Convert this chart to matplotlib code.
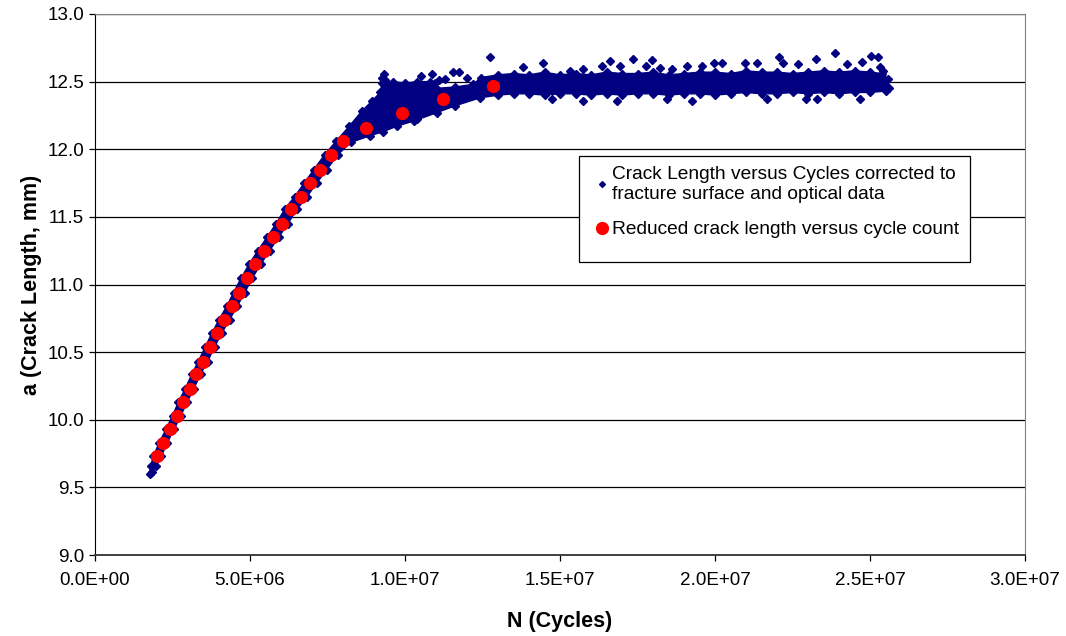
import numpy as np
import matplotlib
matplotlib.use("Agg")
import matplotlib.pyplot as plt
from matplotlib.lines import Line2D
from matplotlib.patches import Rectangle

plt.rcParams["font.family"] = ["Liberation Sans", "DejaVu Sans"]

NAVY = "#000080"
RED = "#FF0000"

# Reduced crack length versus cycle count (N in millions of cycles, a in mm)
reduced_n_mcycles = [2.01, 2.20, 2.42, 2.64, 2.83, 3.05, 3.27, 3.48, 3.71, 3.93,
                     4.17, 4.42, 4.65, 4.90, 5.16, 5.44, 5.74, 6.03, 6.33, 6.64,
                     6.95, 7.27, 7.62, 8.01, 8.75, 9.89, 11.22, 12.85]
reduced_a_mm = [9.73, 9.83, 9.93, 10.03, 10.13, 10.23, 10.34, 10.43, 10.54, 10.64,
                10.74, 10.84, 10.94, 11.05, 11.15, 11.25, 11.35, 11.45, 11.56, 11.65,
                11.75, 11.85, 11.96, 12.06, 12.16, 12.27, 12.37, 12.47]

# Corrected crack length data: outline of the dense point cloud
# upper / left edge of the cloud
cloud_upper_n = [1.76, 1.80, 1.88, 2.07, 2.29, 2.50, 2.69, 2.91, 3.13, 3.33,
                 3.56, 3.77, 4.00, 4.25, 4.47, 4.72, 4.97, 5.25, 5.55, 5.84,
                 6.13, 6.44, 6.75, 7.06, 7.41, 7.78, 8.20, 8.60, 8.95, 9.20,
                 9.26, 9.60, 10.00, 10.40, 10.80, 10.96, 11.00, 11.60, 12.20, 12.45,
                 13.00, 13.50, 14.00, 14.50, 15.00, 15.50, 16.00, 16.50, 17.00, 17.50,
                 18.00, 18.50, 19.00, 19.50, 20.00, 20.50, 21.00, 21.50, 22.00, 22.50,
                 23.00, 23.50, 24.00, 24.50, 25.00, 25.40, 25.58]
cloud_upper_a = [9.60, 9.66, 9.73, 9.83, 9.93, 10.03, 10.13, 10.23, 10.34, 10.43,
                 10.54, 10.64, 10.74, 10.84, 10.94, 11.05, 11.15, 11.25, 11.35, 11.45,
                 11.56, 11.65, 11.75, 11.85, 11.96, 12.06, 12.17, 12.28, 12.36, 12.42,
                 12.49, 12.50, 12.49, 12.50, 12.50, 12.49, 12.45, 12.46, 12.48, 12.53,
                 12.55, 12.56, 12.55, 12.57, 12.55, 12.56, 12.55, 12.57, 12.56, 12.56,
                 12.57, 12.55, 12.56, 12.57, 12.57, 12.56, 12.58, 12.57, 12.57, 12.56,
                 12.57, 12.58, 12.57, 12.58, 12.57, 12.56, 12.52]
# lower / right edge of the cloud
cloud_lower_n = [1.84, 1.98, 2.14, 2.33, 2.55, 2.77, 2.97, 3.19, 3.41, 3.63,
                 3.86, 4.09, 4.34, 4.59, 4.83, 5.08, 5.35, 5.63, 5.93, 6.22,
                 6.53, 6.84, 7.15, 7.48, 7.83, 8.25, 8.87, 9.30, 9.73, 10.30,
                 11.02, 11.60, 12.42, 13.00, 13.50, 14.00, 14.50, 15.00, 15.50, 16.00,
                 16.50, 17.00, 17.50, 18.00, 18.50, 19.00, 19.50, 20.00, 20.50, 21.00,
                 21.50, 22.00, 22.50, 23.00, 23.50, 24.00, 24.50, 25.00, 25.50, 25.62]
cloud_lower_a = [9.61, 9.66, 9.73, 9.83, 9.93, 10.03, 10.13, 10.23, 10.34, 10.43,
                 10.54, 10.64, 10.74, 10.84, 10.94, 11.05, 11.15, 11.25, 11.35, 11.45,
                 11.56, 11.65, 11.75, 11.85, 11.96, 12.05, 12.10, 12.13, 12.17, 12.21,
                 12.27, 12.32, 12.38, 12.40, 12.41, 12.41, 12.40, 12.41, 12.41, 12.40,
                 12.41, 12.40, 12.41, 12.41, 12.40, 12.41, 12.41, 12.40, 12.41, 12.42,
                 12.41, 12.41, 12.42, 12.41, 12.42, 12.41, 12.42, 12.42, 12.43, 12.45]
# isolated readings outside the dense cloud
scatter_n = [9.27, 9.33, 9.35, 10.50, 10.86, 11.56, 11.74, 12.74, 13.82, 14.46,
             15.32, 15.75, 16.34, 16.61, 16.94, 17.36, 17.77, 17.96, 18.23, 18.60,
             19.09, 19.57, 19.98, 20.22, 20.97, 21.35, 22.06, 22.20, 22.67, 23.25,
             23.87, 24.25, 24.73, 25.03, 25.25, 25.32, 25.41, 14.73, 15.75, 16.83,
             18.44, 19.25, 21.67, 22.94, 23.28, 24.68, 11.10, 11.30, 12.00, 10.40]
scatter_a = [12.53, 12.56, 12.51, 12.54, 12.56, 12.57, 12.57, 12.68, 12.61, 12.64,
             12.58, 12.59, 12.615, 12.655, 12.615, 12.67, 12.615, 12.66, 12.60, 12.59,
             12.615, 12.615, 12.635, 12.635, 12.64, 12.635, 12.68, 12.64, 12.63, 12.67,
             12.71, 12.63, 12.645, 12.69, 12.68, 12.61, 12.575, 12.37, 12.36, 12.36,
             12.375, 12.36, 12.375, 12.375, 12.37, 12.375, 12.51, 12.52, 12.53, 12.22]

y_ticks = [9.0, 9.5, 10.0, 10.5, 11.0, 11.5, 12.0, 12.5, 13.0]
x_ticks = [0, 5e6, 1e7, 1.5e7, 2e7, 2.5e7, 3e7]

label_cloud = "Crack Length versus Cycles corrected to\nfracture surface and optical data"
label_reduced = "Reduced crack length versus cycle count"

MC = 1e6  # cycles per million

fig = plt.figure(figsize=(10.66, 6.36), dpi=100)
ax = fig.add_axes([95 / 1066, 1 - 555 / 636, 930 / 1066, 541 / 636])

ax.set_xlim(0, 3e7)
ax.set_ylim(9.0, 13.0)

# horizontal gridlines
for yv in y_ticks:
    ax.axhline(yv, color="#000000", lw=0.9, zorder=1)

# dense cloud of corrected readings
poly_n = np.concatenate([np.array(cloud_upper_n), np.array(cloud_lower_n)[::-1]]) * MC
poly_a = np.concatenate([np.array(cloud_upper_a), np.array(cloud_lower_a)[::-1]])
ax.fill(poly_n, poly_a, color=NAVY, lw=1.0, ec=NAVY, zorder=2)
for n_vals, a_vals in ((cloud_upper_n, cloud_upper_a),
                       (cloud_lower_n, cloud_lower_a),
                       (scatter_n, scatter_a)):
    ax.plot(np.array(n_vals) * MC, a_vals, ls="none", marker="D",
            ms=4.2, color=NAVY, mec=NAVY, zorder=3)

# reduced data
ax.plot(np.array(reduced_n_mcycles) * MC, reduced_a_mm, ls="none", marker="o",
        ms=8.5, color=RED, mec=RED, zorder=4)

# axes styling
ax.set_xticks(x_ticks)
ax.set_xticklabels([f"{v:.1E}" for v in x_ticks])
ax.set_yticks(y_ticks)
ax.set_yticklabels([f"{v:.1f}" for v in y_ticks])
ax.tick_params(axis="both", direction="out", length=4, width=0.9,
               labelsize=13.6, colors="#000000")
ax.tick_params(axis="x", pad=8)
ax.tick_params(axis="y", pad=4)
ax.spines["left"].set_color("#000000")
ax.spines["bottom"].set_color("#404040")
ax.spines["bottom"].set_linewidth(1.4)
ax.spines["top"].set_color("#808080")
ax.spines["right"].set_color("#808080")
for s in ax.spines.values():
    s.set_zorder(5)

ax.set_xlabel("N (Cycles)", fontsize=15.5, fontweight="bold", labelpad=16)
ax.set_ylabel("a (Crack Length, mm)", fontsize=15.5, fontweight="bold", labelpad=4)

# legend box and entries
ax.add_patch(Rectangle((579 / 1066, 1 - 262 / 636), 391 / 1066, 106 / 636,
                       transform=fig.transFigure, fill=True, fc="white",
                       ec="#000000", lw=0.9, zorder=6, clip_on=False))
handles = [Line2D([], [], ls="none", marker="D", ms=3.0, color=NAVY),
           Line2D([], [], ls="none", marker="o", ms=8.5, color=RED)]
leg = ax.legend(handles, [label_cloud, label_reduced], loc="upper left",
                bbox_to_anchor=(595 / 1066, 1 - 166 / 636),
                bbox_transform=fig.transFigure, frameon=False, fontsize=13.8,
                handlelength=0.7, handletextpad=0.2, labelspacing=0.95,
                borderpad=0, borderaxespad=0)
for t in leg.get_texts():
    t.set_linespacing(1.2)
leg.set_zorder(7)

fig.savefig("out.png", dpi=100)
